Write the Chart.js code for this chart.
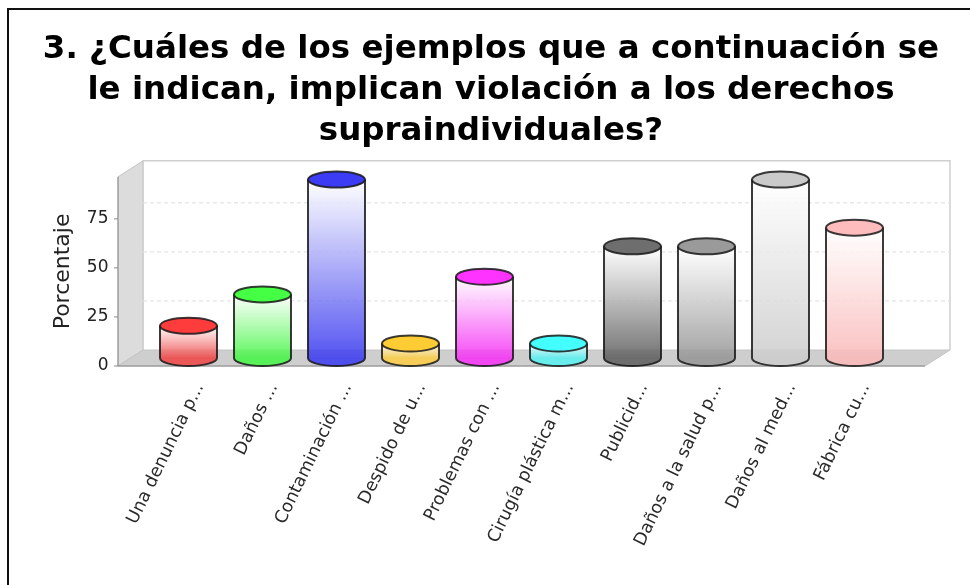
<!DOCTYPE html>
<html lang="es">
<head>
  <meta charset="UTF-8">
  <title>Derechos supraindividuales</title>
  <script src="https://cdn.jsdelivr.net/npm/chart.js"></script>
  <style>
    html, body { margin: 0; background: #fff; }
    #frame { position: absolute; left: 7px; top: 8px; right: 0; bottom: 0; border-left: 2px solid #111; border-top: 2px solid #111; }
    #c { position: absolute; left: 0; top: 0; }
  </style>
</head>
<body>
<div id="frame"></div>
<canvas id="c" width="970" height="585"></canvas>

<script>
  var titleLines = [
    '3. ¿Cuáles de los ejemplos que a continuación se',
    'le indican, implican violación a los derechos',
    'supraindividuales?'
  ];
  var categories = ['Una denuncia p...', 'Daños ...', 'Contaminación ...', 'Despido de u...', 'Problemas con ...',
    'Cirugía plástica m...', 'Publicid...', 'Daños a la salud p...', 'Daños al med...', 'Fábrica cu...'];
  var values = [20.5, 36.5, 95, 11.5, 45.5, 11.5, 61, 61, 95, 70.5];
  var capColors = ['#ff3c3c', '#44ff44', '#3c3cf5', '#ffcc33', '#ff33ff', '#44ffff', '#6e6e6e', '#9a9a9a', '#cacaca', '#ffbcbc'];
  var sideColors = ['238,70,70', '70,245,70', '60,60,240', '250,205,70', '245,50,245', '90,240,240', '95,95,95', '150,150,150', '205,205,205', '250,185,185'];
  var yTicks = [0, 25, 50, 75];

  var depthX = 25, depthY = 16;   // 3D offset of the back wall
  var wallOut = 33.5;             // floor overhang past the first and last slots
  var capH = 16;                  // ellipse height of a cylinder
  var footValue = 4.08;           // the cylinders stand in the middle of the floor

  function sideGradient(ctx) {
    var chart = ctx.chart;
    if (ctx.dataIndex === undefined || !chart.chartArea) return 'rgba(0,0,0,0)';
    var y = chart.scales.y;
    var g = chart.ctx.createLinearGradient(0, y.getPixelForValue(values[ctx.dataIndex]), 0, y.getPixelForValue(footValue));
    var c = sideColors[ctx.dataIndex];
    g.addColorStop(0, 'rgba(255,255,255,0.85)');
    g.addColorStop(1, 'rgba(' + c + ',0.87)');
    return g;
  }

  // walls, floor and gridlines behind the cylinders
  var backdrop = {
    id: 'backdrop',
    beforeDatasetsDraw: function(chart) {
      var c = chart.ctx, a = chart.chartArea, y = chart.scales.y;
      var x0 = a.left - wallOut, x1 = a.right + wallOut, yb = a.bottom, yt = a.top;
      c.save();
      c.fillStyle = '#dcdcdc';
      c.strokeStyle = '#c4c4c4';
      c.lineWidth = 1;
      c.beginPath();
      c.moveTo(x0, yt); c.lineTo(x0 + depthX, yt - depthY); c.lineTo(x0 + depthX, yb - depthY); c.lineTo(x0, yb);
      c.closePath(); c.fill(); c.stroke();
      c.fillStyle = '#cecece';
      c.beginPath();
      c.moveTo(x0, yb); c.lineTo(x0 + depthX, yb - depthY); c.lineTo(x1 + depthX, yb - depthY); c.lineTo(x1, yb);
      c.closePath(); c.fill(); c.stroke();
      c.lineWidth = 1.5;
      c.strokeStyle = '#cfcfcf';
      c.beginPath();
      c.moveTo(x0 + depthX, yb - depthY); c.lineTo(x0 + depthX, yt - depthY); c.lineTo(x1 + depthX, yt - depthY); c.lineTo(x1 + depthX, yb - depthY);
      c.stroke();
      c.lineWidth = 1;
      c.strokeStyle = '#dedede';
      c.setLineDash([4, 3]);
      yTicks.slice(1).forEach(function(t) {
        var p = y.getPixelForValue(t);
        c.beginPath();
        c.moveTo(x0 + depthX, p - depthY); c.lineTo(x1 + depthX, p - depthY);
        c.stroke();
        c.beginPath();
        c.moveTo(x0, p); c.lineTo(x0 + depthX, p - depthY);
        c.stroke();
      });
      c.setLineDash([]);
      // value axis line and tick marks
      c.strokeStyle = '#888';
      c.beginPath();
      c.moveTo(x0, yt); c.lineTo(x0, yb); c.lineTo(x1, yb);
      c.stroke();
      yTicks.forEach(function(t) {
        var p = y.getPixelForValue(t);
        c.beginPath();
        c.moveTo(x0 - 4, p); c.lineTo(x0, p);
        c.stroke();
      });
      c.restore();
    }
  };

  // turns the plain bars into cylinders: rounded foot, outline and top cap
  var cylinders = {
    id: 'cylinders',
    afterDatasetsDraw: function(chart) {
      var c = chart.ctx, y = chart.scales.y;
      var foot = y.getPixelForValue(footValue);
      chart.getDatasetMeta(0).data.forEach(function(bar, i) {
        var rx = bar.width / 2, ry = capH / 2;
        c.save();
        c.beginPath();
        c.ellipse(bar.x, foot, rx, ry, 0, 0, Math.PI);
        c.closePath();
        c.fillStyle = 'rgba(' + sideColors[i] + ',0.87)';
        c.fill();

        c.strokeStyle = 'rgba(25,25,25,0.85)';
        c.lineWidth = 2;
        c.beginPath();
        c.moveTo(bar.x - rx, bar.y);
        c.lineTo(bar.x - rx, foot);
        c.ellipse(bar.x, foot, rx, ry, 0, Math.PI, 0, true);
        c.lineTo(bar.x + rx, bar.y);
        c.stroke();

        c.beginPath();
        c.ellipse(bar.x, bar.y, rx, ry, 0, 0, Math.PI * 2);
        c.fillStyle = capColors[i];
        c.fill();
        c.stroke();
        c.restore();
      });
    }
  };

  new Chart(document.getElementById('c').getContext('2d'), {
    type: 'bar',
    data: {
      labels: categories,
      datasets: [{
        label: 'Porcentaje',
        data: values,
        base: footValue,
        barThickness: 57,
        backgroundColor: sideGradient,
        borderWidth: 0
      }]
    },
    options: {
      responsive: false,
      animation: false,
      layout: { padding: { left: 12, right: 0, top: 0, bottom: 0 } },
      plugins: {
        legend: { display: false },
        tooltip: { enabled: false },
        title: {
          display: true,
          text: titleLines,
          color: '#000',
          font: { family: '"DejaVu Sans"', size: 32.5, weight: 'bold', lineHeight: 1.26 },
          padding: { top: 29.5, bottom: 24.5 }
        }
      },
      scales: {
        x: {
          grid: { display: false, drawTicks: false },
          border: { display: false },
          afterFit: function(s) { s.height = 219; },
          ticks: {
            autoSkip: false, minRotation: 64, maxRotation: 64, padding: 14, labelOffset: 11,
            color: '#2a2a2a',
            font: { family: '"DejaVu Sans"', size: 17.5 }
          }
        },
        y: {
          min: 0,
          max: 96.4,
          grid: { display: false, drawTicks: false },
          border: { display: false },
          afterBuildTicks: function(s) { s.ticks = yTicks.map(function(v) { return { value: v }; }); },
          afterFit: function(s) { s.width = 139.5; },
          ticks: {
            padding: 43, color: '#222',
            font: { family: '"DejaVu Sans"', size: 17 }
          },
          title: {
            display: true,
            text: 'Porcentaje',
            color: '#222',
            padding: { top: 38, bottom: 0 },
            font: { family: '"DejaVu Sans"', size: 22 }
          }
        },
        // empty strip that keeps the plot clear of the right edge
        spacer: {
          type: 'linear',
          position: 'right',
          grid: { display: false, drawTicks: false },
          border: { display: false },
          ticks: { display: false },
          afterFit: function(s) { s.width = 78.5; }
        }
      }
    },
    plugins: [backdrop, cylinders]
  });
</script>
</body>
</html>
